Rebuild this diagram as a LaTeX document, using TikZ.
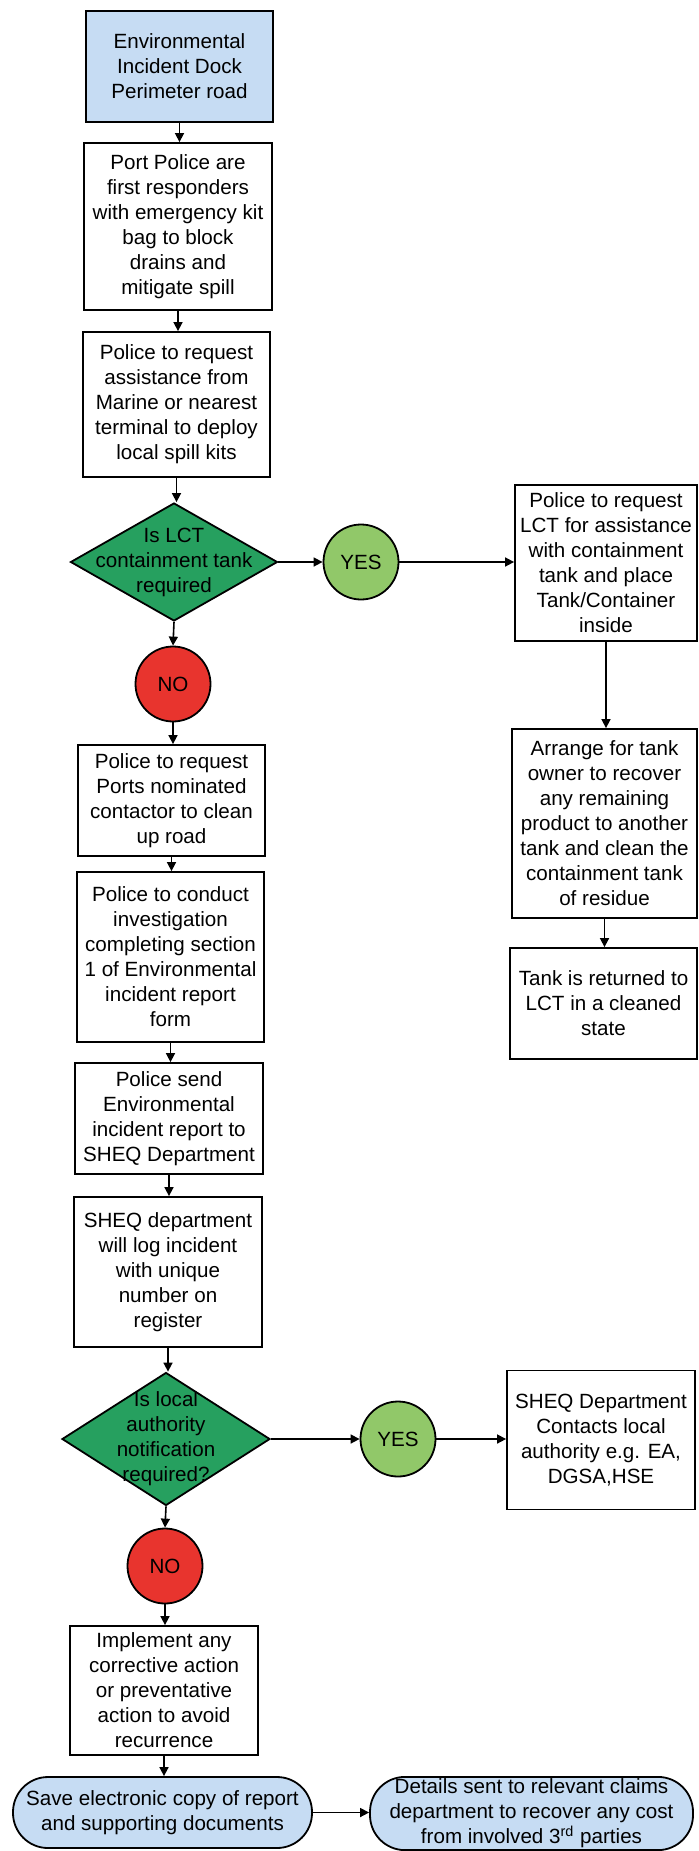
\documentclass[tikz,border=0pt]{standalone}
\usepackage{fontspec}
\setmainfont{Liberation Sans}
\usetikzlibrary{shapes.geometric,arrows.meta}
\definecolor{startblue}{RGB}{198,220,243}
\definecolor{decgreen}{RGB}{38,160,95}
\definecolor{yesgreen}{RGB}{145,200,105}
\definecolor{nored}{RGB}{232,52,46}
\tikzset{
  txt/.style={font=\fontsize{10.3pt}{12.5pt}\selectfont, align=center},
  stepbox/.style={txt, draw=black, line width=0.9pt, fill=white, inner sep=1pt},
  startbox/.style={stepbox, fill=startblue},
  decision/.style={diamond, draw=black, line width=0.9pt, fill=decgreen, inner sep=0pt},
  yesdot/.style={circle, draw=black, line width=0.9pt, fill=yesgreen, txt, inner sep=0pt, minimum size=37.5pt},
  nodot/.style={circle, draw=black, line width=0.9pt, fill=nored, txt, inner sep=0pt, minimum size=37.5pt},
  terminal/.style={txt, draw=black, line width=0.9pt, fill=startblue, rounded corners=17.5pt, inner sep=1pt, minimum height=35.5pt},
  arr/.style={line width=0.8pt, -{Triangle[length=4.5pt,width=4.5pt]}}
}
\begin{document}
\begin{tikzpicture}[x=0.5pt,y=-0.5pt]
\useasboundingbox (0,0) rectangle (699,1851);

% main column
\node[startbox, minimum width=93.5pt, minimum height=55.5pt] (start) at (179.5,66.5)
  {Environmental\\Incident Dock\\Perimeter road};
\node[stepbox, minimum width=94pt, minimum height=83.5pt] (first) at (178,226.5)
  {Port Police are\\first responders\\with emergency kit\\bag to block\\drains and\\mitigate spill};
\node[stepbox, minimum width=93.5pt, minimum height=72.5pt] (assist) at (176.5,404.5)
  {Police to request\\assistance from\\Marine or nearest\\terminal to deploy\\local spill kits};
\node[decision, minimum width=103.5pt, minimum height=59pt] (tankq) at (174,562) {};
\node[txt] (tankqt) at (tankq.center) {Is LCT\\containment tank\\required};
\node[yesdot] (yesa) at (361,562) {YES};
\node[nodot] (noa) at (173,684) {NO};
\node[stepbox, minimum width=93.5pt, minimum height=55.5pt] (clean) at (171.5,800.5)
  {Police to request\\Ports nominated\\contactor to clean\\up road};
\node[stepbox, minimum width=93.5pt, minimum height=85pt] (invest) at (170.5,957)
  {Police to conduct\\investigation\\completing section\\1 of Environmental\\incident report\\form};
\node[stepbox, minimum width=94pt, minimum height=55.5pt] (send) at (169,1118.5)
  {Police send\\Environmental\\incident report to\\SHEQ Department};
\node[stepbox, minimum width=94pt, minimum height=75pt] (logit) at (168,1272)
  {SHEQ department\\will log incident\\with unique\\number on\\register};
\node[decision, minimum width=104pt, minimum height=66.5pt] (authq) at (166,1439) {};
\node[txt] (authqt) at (authq.center) {Is local\\authority\\notification\\required?};
\node[yesdot] (yesb) at (398,1439) {YES};
\node[nodot] (nob) at (165,1566) {NO};
\node[stepbox, minimum width=94pt, minimum height=64.5pt] (correct) at (164,1690.5)
  {Implement any\\corrective action\\or preventative\\action to avoid\\recurrence};
\node[terminal, minimum width=149.5pt] (save) at (162.5,1812.5)
  {Save electronic copy of report\\and supporting documents};
\node[terminal, minimum width=161.5pt] (claims) at (531.5,1813.5)
  {Details sent to relevant claims\\department to recover any cost\\from involved 3\textsuperscript{rd} parties};

% right column
\node[stepbox, minimum width=91pt, minimum height=78pt] (lct) at (606,563)
  {Police to request\\LCT for assistance\\with containment\\tank and place\\Tank/Container\\inside};
\node[stepbox, minimum width=92.5pt, minimum height=94.5pt] (owner) at (604.5,823.5)
  {Arrange for tank\\owner to recover\\any remaining\\product to another\\tank and clean the\\containment tank\\of residue};
\node[stepbox, minimum width=93.5pt, minimum height=55.5pt] (returned) at (603.5,1003.5)
  {Tank is returned to\\LCT in a cleaned\\state};
\node[stepbox, minimum width=94pt, minimum height=69.5pt] (contact) at (601,1440)
  {SHEQ Department\\Contacts local\\authority e.g. EA,\\DGSA,HSE};

% connectors
\draw[arr] (start.south) -- (start.south |- first.north);
\draw[arr] (first.south) -- (first.south |- assist.north);
\draw[arr] (assist.south) -- (assist.south |- tankq.north);
\draw[arr] (tankq.east) -- (yesa.west);
\draw[arr] (yesa.east) -- (yesa.east -| lct.west);
\draw[arr] (tankq.south) -- (noa.north);
\draw[arr] (noa.south) -- (noa.south |- clean.north);
\draw[arr] (clean.south) -- (clean.south |- invest.north);
\draw[arr] (invest.south) -- (invest.south |- send.north);
\draw[arr] (send.south) -- (send.south |- logit.north);
\draw[arr] (logit.south) -- (logit.south |- authq.north);
\draw[arr] (authq.east) -- (yesb.west);
\draw[arr] (yesb.east) -- (yesb.east -| contact.west);
\draw[arr] (authq.south) -- (nob.north);
\draw[arr] (nob.south) -- (nob.south |- correct.north);
\draw[arr] (correct.south) -- (correct.south |- save.north);
\draw[arr] (save.east) -- (save.east -| claims.west);
\draw[arr] (lct.south) -- (lct.south |- owner.north);
\draw[arr] (owner.south) -- (owner.south |- returned.north);
\end{tikzpicture}
\end{document}
